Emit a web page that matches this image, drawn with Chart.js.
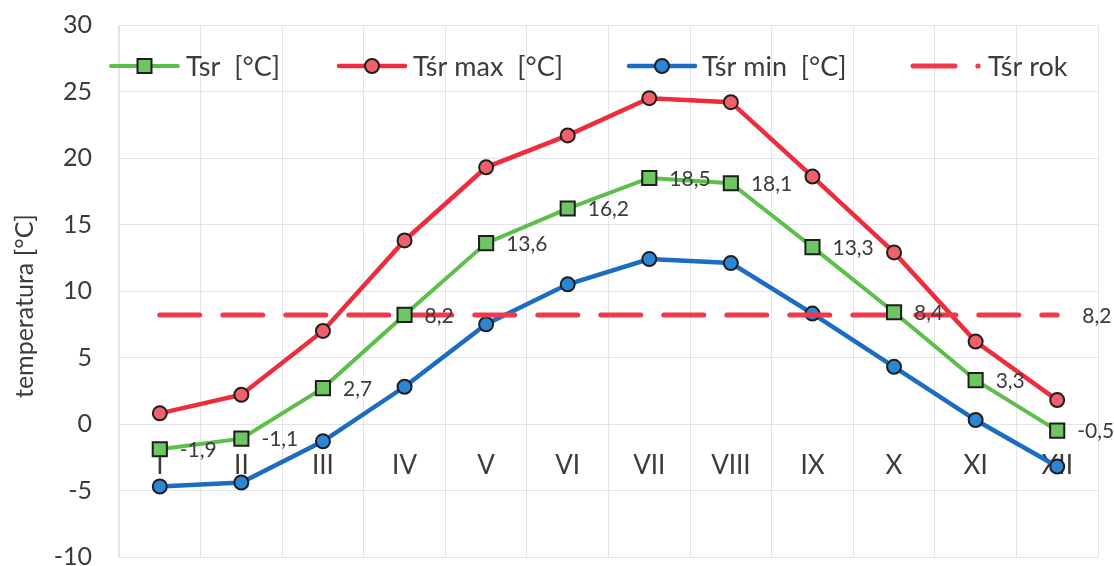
<!DOCTYPE html>
<html lang="pl">
<head>
<meta charset="utf-8">
<title>Temperatura powietrza</title>
<script src="https://cdn.jsdelivr.net/npm/chart.js@4.4.1/dist/chart.umd.min.js"></script>
<style>
  html, body { margin: 0; padding: 0; background: #ffffff; }
  #wrap { width: 1114px; height: 566px; position: relative; }
  canvas { display: block; }
</style>
</head>
<body>
<div id="wrap"><canvas id="chart" width="1114" height="566"></canvas></div>
<script>
// Miesiące
const categories = ['I', 'II', 'III', 'IV', 'V', 'VI', 'VII', 'VIII', 'IX', 'X', 'XI', 'XII'];

// Średnia miesięczna temperatura [°C]
const tSr = [-1.9, -1.1, 2.7, 8.2, 13.6, 16.2, 18.5, 18.1, 13.3, 8.4, 3.3, -0.5];
// Średnia temperatura maksymalna [°C]
const tSrMax = [0.8, 2.2, 7.0, 13.8, 19.3, 21.7, 24.5, 24.2, 18.6, 12.9, 6.2, 1.8];
// Średnia temperatura minimalna [°C]
const tSrMin = [-4.7, -4.4, -1.3, 2.8, 7.5, 10.5, 12.4, 12.1, 8.3, 4.3, 0.3, -3.2];
// Średnia roczna [°C]
const tSrRok = [8.2, 8.2, 8.2, 8.2, 8.2, 8.2, 8.2, 8.2, 8.2, 8.2, 8.2, 8.2];

// Oś temperatury
const yMin = -10;
const yMax = 30;
const yStep = 5;

const seriesNames = ['Tsr  [°C]', 'Tśr max  [°C]', 'Tśr min  [°C]', 'Tśr rok'];
const yTitle = 'temperatura [°C]';

const FONT = 'Lato, "Open Sans", sans-serif';
const TEXT = '#3b3b3b';
const GRID = '#e3e3ea';

const GREEN = '#5cbf4a', GREEN_FILL = '#6fc463';
const RED = '#ee2d3c', RED_FILL = '#f2606b';
const BLUE = '#1b6cc3', BLUE_FILL = '#2b86d6';
const DASH_RED = '#f03a4b';
const MARK_EDGE = '#1e1e1e';

const fmt = v => v.toFixed(1).replace('.', ',');

// Etykiety wartości przy punktach
const valueLabels = {
  id: 'valueLabels',
  afterDatasetsDraw(chart) {
    const ctx = chart.ctx;
    ctx.save();
    ctx.font = '21px ' + FONT;
    ctx.fillStyle = TEXT;
    ctx.textAlign = 'left';
    ctx.textBaseline = 'middle';
    const metaSr = chart.getDatasetMeta(0);
    metaSr.data.forEach((pt, i) => {
      ctx.fillText(fmt(tSr[i]), pt.x + 20, pt.y + 1);
    });
    const metaRok = chart.getDatasetMeta(3);
    const last = metaRok.data[metaRok.data.length - 1];
    ctx.fillText(fmt(tSrRok[tSrRok.length - 1]), last.x + 25, last.y + 1);
    ctx.restore();
  }
};

// Legenda wewnątrz obszaru wykresu
const legendBox = {
  id: 'legendBox',
  afterDraw(chart) {
    const ctx = chart.ctx;
    const y = 66;
    ctx.save();
    ctx.lineCap = 'round';
    const items = [
      { x0: 111, x1: 178, color: GREEN, fill: GREEN_FILL, width: 4, mark: 'rect', text: seriesNames[0], tx: 186 },
      { x0: 339, x1: 405, color: RED, fill: RED_FILL, width: 4.5, mark: 'circle', text: seriesNames[1], tx: 413 },
      { x0: 629, x1: 695, color: BLUE, fill: BLUE_FILL, width: 4.5, mark: 'circle', text: seriesNames[2], tx: 702 },
    ];
    items.forEach(it => {
      ctx.strokeStyle = it.color;
      ctx.lineWidth = it.width;
      ctx.beginPath();
      ctx.moveTo(it.x0, y);
      ctx.lineTo(it.x1, y);
      ctx.stroke();
      const cx = (it.x0 + it.x1) / 2;
      ctx.fillStyle = it.fill;
      ctx.strokeStyle = MARK_EDGE;
      ctx.lineWidth = 2;
      ctx.beginPath();
      if (it.mark === 'rect') ctx.rect(cx - 7, y - 7, 14, 14);
      else ctx.arc(cx, y, 7, 0, Math.PI * 2);
      ctx.fill();
      ctx.stroke();
    });
    // próbka linii przerywanej
    ctx.strokeStyle = DASH_RED;
    ctx.lineWidth = 5;
    ctx.beginPath();
    ctx.moveTo(913, y);
    ctx.lineTo(955, y);
    ctx.stroke();
    ctx.beginPath();
    ctx.arc(978, y, 2.6, 0, Math.PI * 2);
    ctx.fillStyle = DASH_RED;
    ctx.fill();

    ctx.font = '27px ' + FONT;
    ctx.fillStyle = TEXT;
    ctx.textAlign = 'left';
    ctx.textBaseline = 'middle';
    items.forEach(it => ctx.fillText(it.text, it.tx, y + 1));
    ctx.fillText(seriesNames[3], 988, y + 1);
    ctx.restore();
  }
};

// Tytuł osi Y
const yAxisTitle = {
  id: 'yAxisTitle',
  afterDraw(chart) {
    const ctx = chart.ctx;
    ctx.save();
    ctx.translate(25, 306);
    ctx.rotate(-Math.PI / 2);
    ctx.font = '25px ' + FONT;
    ctx.fillStyle = TEXT;
    ctx.textAlign = 'center';
    ctx.textBaseline = 'middle';
    ctx.fillText(yTitle, 0, 0);
    ctx.restore();
  }
};

new Chart(document.getElementById('chart'), {
  type: 'line',
  data: {
    labels: categories,
    datasets: [
      {
        label: seriesNames[0],
        data: tSr,
        borderColor: GREEN,
        borderWidth: 4,
        backgroundColor: GREEN_FILL,
        pointStyle: 'rect',
        pointRadius: 10,
        pointBorderColor: MARK_EDGE,
        pointBorderWidth: 2,
        pointBackgroundColor: GREEN_FILL,
        tension: 0,
        order: 0
      },
      {
        label: seriesNames[1],
        data: tSrMax,
        borderColor: RED,
        borderWidth: 4.5,
        backgroundColor: RED_FILL,
        pointStyle: 'circle',
        pointRadius: 7,
        pointBorderColor: MARK_EDGE,
        pointBorderWidth: 2,
        pointBackgroundColor: RED_FILL,
        tension: 0,
        order: 2
      },
      {
        label: seriesNames[2],
        data: tSrMin,
        borderColor: BLUE,
        borderWidth: 4.5,
        backgroundColor: BLUE_FILL,
        pointStyle: 'circle',
        pointRadius: 7,
        pointBorderColor: MARK_EDGE,
        pointBorderWidth: 2,
        pointBackgroundColor: BLUE_FILL,
        tension: 0,
        order: 3
      },
      {
        label: seriesNames[3],
        data: tSrRok,
        borderColor: DASH_RED,
        borderWidth: 5,
        borderDash: [40, 23],
        borderCapStyle: 'round',
        pointRadius: 0,
        tension: 0,
        order: 1
      }
    ]
  },
  options: {
    responsive: false,
    maintainAspectRatio: false,
    animation: false,
    events: [],
    layout: { autoPadding: false, padding: { left: 0, right: 16, top: 25, bottom: 9 } },
    plugins: {
      legend: { display: false },
      tooltip: { enabled: false },
      title: { display: false }
    },
    scales: {
      x: {
        type: 'category',
        position: { y: 0 },
        offset: true,
        grid: { color: GRID, lineWidth: 1, offset: true, drawTicks: false },
        border: { display: false },
        afterFit(scale) {
          scale.height = 0;
          scale.paddingTop = 0;
          scale.paddingBottom = 0;
        },
        ticks: {
          color: TEXT,
          font: { family: FONT, size: 26 },
          padding: 26,
          maxRotation: 0,
          autoSkip: false
        }
      },
      y: {
        min: yMin,
        max: yMax,
        grid: { color: GRID, lineWidth: 1, drawTicks: true, tickLength: 27, tickColor: 'rgba(0,0,0,0)' },
        border: { display: true, color: GRID },
        afterFit(scale) {
          scale.width = 119;
          scale.paddingTop = 0;
          scale.paddingBottom = 0;
        },
        ticks: {
          stepSize: yStep,
          color: TEXT,
          font: { family: FONT, size: 25 },
          padding: 0,
          callback: v => String(v)
        }
      }
    }
  },
  plugins: [valueLabels, legendBox, yAxisTitle]
});
</script>
</body>
</html>
